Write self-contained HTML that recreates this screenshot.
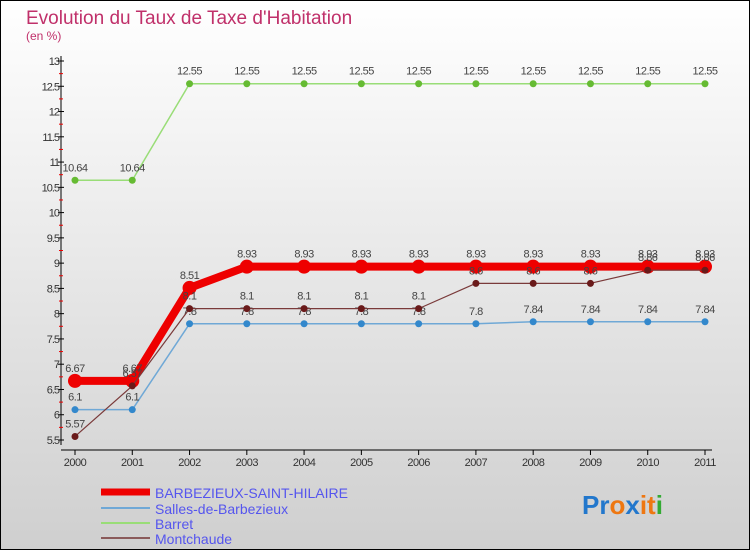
<!DOCTYPE html>
<html><head><meta charset="utf-8"><style>
html,body{margin:0;padding:0}
body{width:750px;height:550px;overflow:hidden;font-family:"Liberation Sans",sans-serif}
svg{display:block}
</style></head><body>
<svg id="chart" width="750" height="550" xmlns="http://www.w3.org/2000/svg">
<defs><linearGradient id="bg" x1="0" y1="0" x2="0" y2="1"><stop offset="0" stop-color="#ffffff"/><stop offset="1" stop-color="#cfcfcf"/></linearGradient></defs>
<rect x="0.5" y="0.5" width="749" height="549" fill="url(#bg)" stroke="#000"/>
<text x="26" y="24" font-size="19" fill="#c0306a">Evolution du Taux de Taxe d'Habitation</text>
<text x="26" y="40" font-size="12" fill="#c0306a">(en %)</text>
<g id="axes"></g>
<g id="series"></g>
<g font-size="14" fill="#5555ee">
<line x1="101" y1="492" x2="150" y2="492" stroke="#ee0000" stroke-width="7"/>
<text x="155" y="498">BARBEZIEUX-SAINT-HILAIRE</text>
<line x1="101" y1="508" x2="150" y2="508" stroke="#6fa8d6" stroke-width="2"/>
<text x="155" y="514">Salles-de-Barbezieux</text>
<line x1="101" y1="523" x2="150" y2="523" stroke="#99dd77" stroke-width="2"/>
<text x="155" y="529">Barret</text>
<line x1="101" y1="538" x2="150" y2="538" stroke="#8a5a5a" stroke-width="2"/>
<text x="155" y="544">Montchaude</text>
</g>
<g font-size="26" font-weight="bold">
<text x="582" y="514"><tspan fill="#2277cc">Pr</tspan><tspan fill="#ee7711">o</tspan><tspan fill="#2277cc">x</tspan><tspan fill="#ee7711">it</tspan><tspan fill="#33aa33">i</tspan></text>
</g>
</svg>
<script>
const years=[2000,2001,2002,2003,2004,2005,2006,2007,2008,2009,2010,2011];
const yTicks=[5.5,6,6.5,7,7.5,8,8.5,9,9.5,10,10.5,11,11.5,12,12.5,13];
const barbezieux=[6.67,6.67,8.51,8.93,8.93,8.93,8.93,8.93,8.93,8.93,8.93,8.93];
const salles=[6.1,6.1,7.8,7.8,7.8,7.8,7.8,7.8,7.84,7.84,7.84,7.84];
const barret=[10.64,10.64,12.55,12.55,12.55,12.55,12.55,12.55,12.55,12.55,12.55,12.55];
const montchaude=[5.57,6.57,8.1,8.1,8.1,8.1,8.1,8.6,8.6,8.6,8.86,8.86];

const NS="http://www.w3.org/2000/svg";
const x=i=>75+i*(630/11);
const y=v=>440-(v-5.5)*(379/7.5);
function mk(tag,attrs,parent){const e=document.createElementNS(NS,tag);for(const k in attrs)e.setAttribute(k,attrs[k]);parent.appendChild(e);return e;}
const axes=document.getElementById('axes'),ser=document.getElementById('series');
let e=mk('line',{x1:61,y1:56,x2:61,y2:445,stroke:'#000'},axes);


e=mk('line',{x1:61,y1:450,x2:712,y2:450,stroke:'#000'},axes);


yTicks.forEach(v=>{
  mk('line',{x1:58,y1:y(v),x2:64,y2:y(v),stroke:'#000'},axes);
  if(v<13) mk('line',{x1:59,y1:y(v+0.25),x2:63,y2:y(v+0.25),stroke:'#e00'},axes);
  const t=mk('text',{x:59,y:y(v)+4,'font-size':11,'text-anchor':'end',fill:'#333','letter-spacing':'-1'},axes);
  t.textContent=String(v);
  
  
});
years.forEach((yr,i)=>{
  mk('line',{x1:x(i),y1:450,x2:x(i),y2:455,stroke:'#000'},axes);
  const t=mk('text',{x:x(i),y:466,'font-size':11,'text-anchor':'middle',fill:'#333','letter-spacing':'-0.5'},axes);
  t.textContent=String(yr);
  
  
});
function series(vals,name,color,w,r,dot){
  const g=mk('g',{},ser);
  
  
  const p=mk('polyline',{points:vals.map((v,i)=>x(i)+','+y(v)).join(' '),fill:'none',stroke:color,'stroke-width':w,'stroke-linejoin':'round'},g);
  
  
  vals.forEach((v,i)=>{
    const c=mk('circle',{cx:x(i),cy:y(v),r:r,fill:dot},g);
    
    
    const t=mk('text',{x:x(i),y:y(v)-9,'font-size':11,'text-anchor':'middle',fill:'#444','letter-spacing':'-0.5'},g);
    t.textContent=String(v);
    
    
  });
}
series(barret,'barret','#99dd77',1.5,3.5,'#66bb33');
series(salles,'salles','#6fa8d6',1.5,3.5,'#3388cc');
series(barbezieux,'barbezieux','#ee0000',8,7,'#ee0000');
series(montchaude,'montchaude','#7a3a3a',1.2,3.5,'#6a1a1a');
</script>
</body></html>
